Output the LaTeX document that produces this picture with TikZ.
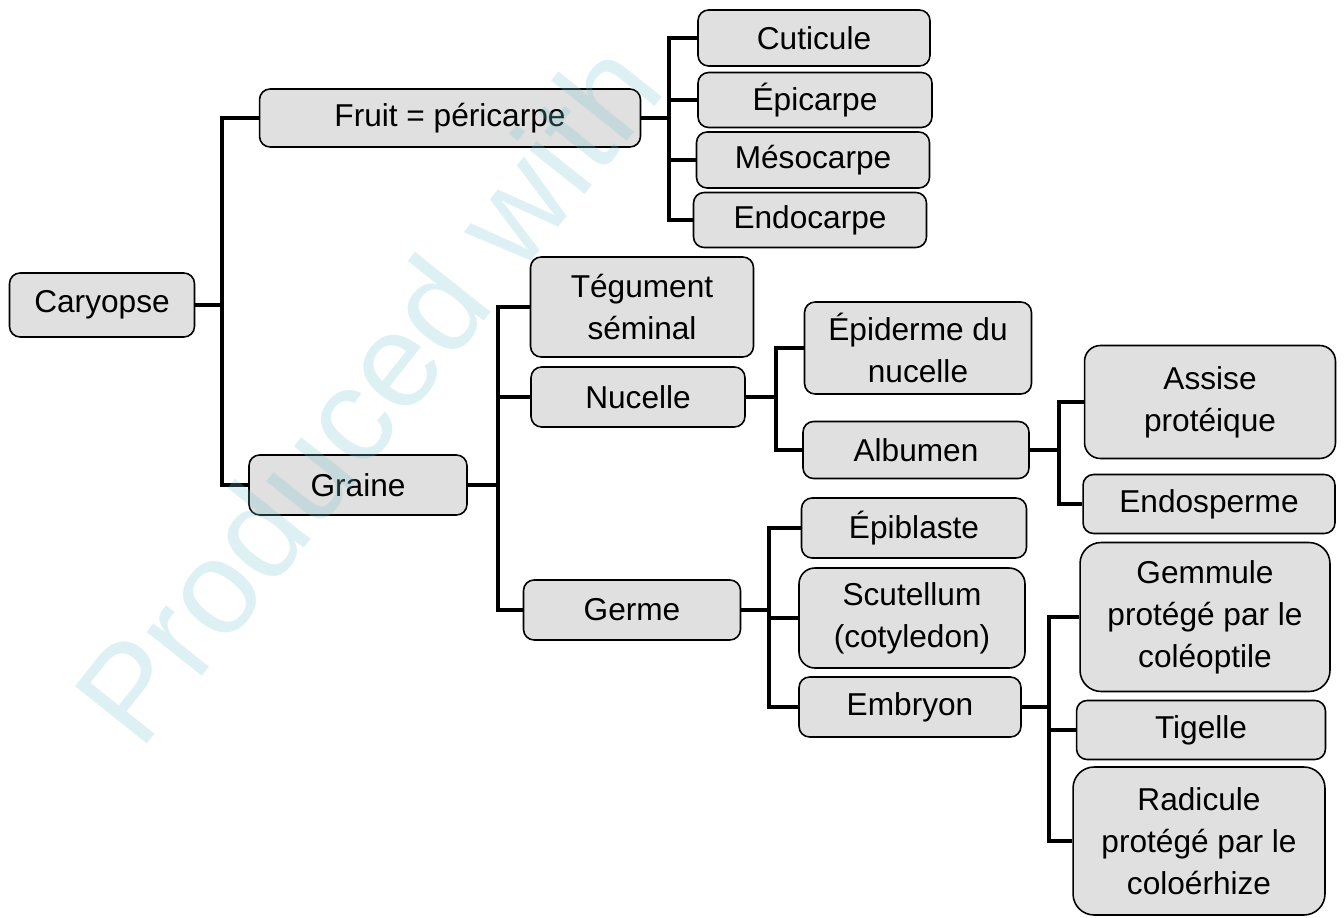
\documentclass[tikz,border=0pt]{standalone}
\usepackage{fontspec}
\setmainfont{Liberation Sans}
\usepackage{tikz}
\definecolor{boxgray}{RGB}{224,224,224}
\definecolor{wmark}{RGB}{120,200,210}

\begin{document}
\begin{tikzpicture}[x=0.02cm,y=-0.02cm,
    main/.style = {draw, rounded corners=6pt, fill=boxgray, line width=0.9pt, align=center, inner sep=0pt, font=\fontsize{18}{24}\selectfont},
    link/.style = {line width=2.2pt}]
        \useasboundingbox (0,0) rectangle (1344,918);
        \node[main, minimum width=3.70cm, minimum height=1.28cm] (1) at (102,305) {Caryopse};
        \node[main, minimum width=7.62cm, minimum height=1.16cm] (2) at (450,118) {Fruit = péricarpe};
        \node[main, minimum width=4.36cm, minimum height=1.20cm] (3) at (358,485) {Graine};
        \node[main, minimum width=4.64cm, minimum height=1.12cm] (4) at (814,38) {Cuticule};
        \node[main, minimum width=4.68cm, minimum height=1.10cm] (5) at (815,100) {Épicarpe};
        \node[main, minimum width=4.66cm, minimum height=1.12cm] (6) at (813,160) {Mésocarpe};
        \node[main, minimum width=4.66cm, minimum height=1.10cm] (7) at (810,220) {Endocarpe};
        \node[main, minimum width=4.46cm, minimum height=2.00cm] (8) at (642,307) {Tégument\\séminal};
        \node[main, minimum width=4.28cm, minimum height=1.20cm] (9) at (638,397) {Nucelle};
        \node[main, minimum width=4.34cm, minimum height=1.20cm] (10) at (632,610) {Germe};
        \node[main, minimum width=4.54cm, minimum height=1.84cm] (11) at (918,348) {Épiderme du\\nucelle};
        \node[main, minimum width=4.52cm, minimum height=1.14cm] (12) at (916,450) {Albumen};
        \node[main, minimum width=5.02cm, minimum height=2.26cm, rounded corners=9pt] (13) at (1210,402) {Assise\\protéique};
        \node[main, minimum width=5.04cm, minimum height=1.18cm] (14) at (1209,504) {Endosperme};
        \node[main, minimum width=4.50cm, minimum height=1.20cm] (15) at (914,528) {Épiblaste};
        \node[main, minimum width=4.52cm, minimum height=2.00cm, rounded corners=9pt] (16) at (912,618) {Scutellum\\(cotyledon)};
        \node[main, minimum width=4.44cm, minimum height=1.20cm] (17) at (910,707) {Embryon};
        \node[main, minimum width=5.00cm, minimum height=2.98cm, rounded corners=12pt] (18) at (1205,617) {Gemmule\\protégé par le\\coléoptile};
        \node[main, minimum width=4.98cm, minimum height=1.18cm] (19) at (1201,730) {Tigelle};
        \node[main, minimum width=5.04cm, minimum height=2.96cm, rounded corners=12pt] (20) at (1199,841) {Radicule\\protégé par le\\coloérhize};
        % branches
        \draw[link] (1.east) -- ++(27,0) coordinate (a1);
        \draw[link] (a1) |- (2.west);
        \draw[link] (a1) |- (3.west);
        \draw[link] (2.east) -- ++(28,0) coordinate (a2);
        \foreach \n in {4,5,6,7} \draw[link] (a2) |- (\n.west);
        \draw[link] (3.east) -- ++(30,0) coordinate (a3);
        \foreach \n in {8,9,10} \draw[link] (a3) |- (\n.west);
        \draw[link] (9.east) -- ++(30,0) coordinate (a4);
        \foreach \n in {11,12} \draw[link] (a4) |- (\n.west);
        \draw[link] (12.east) -- ++(29,0) coordinate (a5);
        \foreach \n in {13,14} \draw[link] (a5) |- (\n.west);
        \draw[link] (10.east) -- ++(28,0) coordinate (a6);
        \foreach \n in {15,16,17} \draw[link] (a6) |- (\n.west);
        \draw[link] (17.east) -- ++(27,0) coordinate (a7);
        \foreach \n in {18,19,20} \draw[link] (a7) |- (\n.west);
        % watermark
        \node[rotate=51.5, text=wmark, opacity=0.25, font=\fontsize{76}{76}\selectfont] (w) at (367,392) {Produced with};
\end{tikzpicture}
\end{document}
